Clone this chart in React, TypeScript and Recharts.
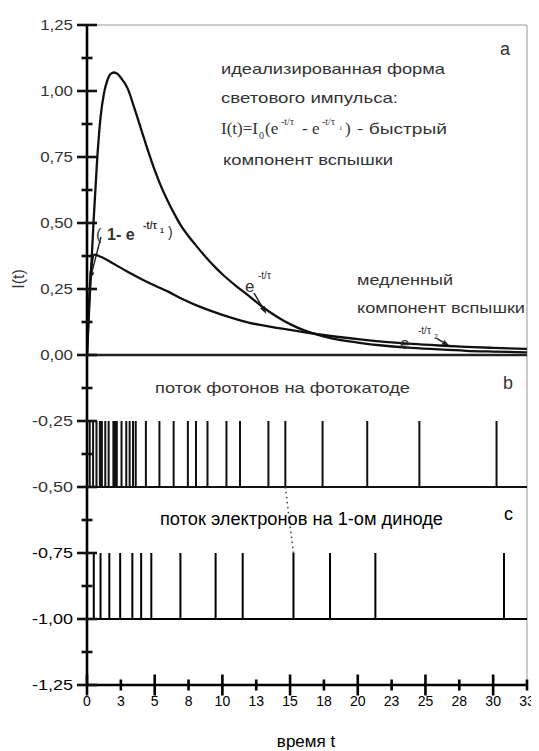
import { ComposedChart, Line, XAxis, YAxis, ReferenceLine } from "recharts";

// fast component of the light pulse
const fastT = [0, 0.25, 0.5, 0.75, 1, 1.25, 1.5, 1.75, 2, 2.25, 2.5, 3, 3.5, 4, 4.5, 5, 5.5, 6, 6.5, 7, 7.5, 8, 8.5, 9, 9.5, 10, 11, 12, 13, 14, 15, 16, 17, 18, 20, 22, 24, 26, 28, 30, 32.5];
const fastI = [0, 0.27, 0.52, 0.74, 0.9, 0.99, 1.04, 1.065, 1.07, 1.065, 1.05, 1.01, 0.935, 0.855, 0.775, 0.7, 0.635, 0.58, 0.53, 0.485, 0.45, 0.418, 0.387, 0.358, 0.331, 0.306, 0.262, 0.222, 0.181, 0.146, 0.117, 0.094, 0.077, 0.064, 0.047, 0.035, 0.027, 0.021, 0.016, 0.013, 0.01];

// slow component
const slowT = [0, 0.15, 0.3, 0.55, 1, 2, 3, 4, 5, 6, 7, 8, 9, 10, 11, 12, 13, 14, 15, 16, 17, 18, 20, 22, 24, 26, 28, 30, 32.5];
const slowI = [0, 0.2, 0.32, 0.38, 0.372, 0.345, 0.315, 0.288, 0.263, 0.24, 0.213, 0.19, 0.17, 0.152, 0.136, 0.122, 0.112, 0.103, 0.095, 0.087, 0.079, 0.072, 0.06, 0.05, 0.042, 0.036, 0.031, 0.027, 0.023];

// photon arrival times on the photocathode (panel b)
const photonSpikes = [0.2, 0.45, 0.7, 0.95, 1.1, 1.35, 1.6, 1.95, 2.07, 2.2, 2.55, 2.9, 3.15, 3.4, 3.6, 4.35, 5.35, 6.4, 7.45, 8.05, 8.9, 10.3, 11.3, 13.4, 14.65, 17.4, 20.7, 24.55, 30.25];
const photonBase = -0.5;
const photonTop = -0.25;

// electrons on the first dynode (panel c)
const electronSpikes = [0.5, 1.0, 1.65, 2.45, 3.35, 4.0, 4.75, 6.9, 9.5, 11.5, 15.25, 17.95, 21.3, 30.8];
const electronBase = -1.0;
const electronTop = -0.75;

// dotted link between a photon and its electron
const linkT = [14.65, 15.25];
const linkI = [-0.5, -0.75];

const xTicks = [0, 2.5, 5, 7.5, 10, 12.5, 15, 17.5, 20, 22.5, 25, 27.5, 30, 32.5];
const xTickLabels = ["0", "3", "5", "8", "10", "13", "15", "18", "20", "23", "25", "28", "30", "33"];
const yTicks = [-1.25, -1.125, -1, -0.875, -0.75, -0.625, -0.5, -0.375, -0.25, -0.125, 0, 0.125, 0.25, 0.375, 0.5, 0.625, 0.75, 0.875, 1, 1.125, 1.25];

// annotation arrows [from, to] in data units
const arrows = [
  [{ x: 1.03, y: 0.447 }, { x: 0.22, y: 0.285 }],
  [{ x: 12.33, y: 0.235 }, { x: 13.25, y: 0.155 }],
  [{ x: 25.8, y: 0.064 }, { x: 26.8, y: 0.033 }],
];

const isMajorY = (v: number) => Math.abs(v * 4 - Math.round(v * 4)) < 1e-6;
const isMajorX = (v: number) => v % 5 === 0;

const toPoints = (ts: number[], vs: number[]) => ts.map((t, i) => ({ t, v: vs[i] }));

const spikeTrain = (spikes: number[], base: number, top: number) => {
  const pts = [{ t: 0, v: base }];
  spikes.forEach((s) => {
    pts.push({ t: s, v: base }, { t: s, v: top }, { t: s, v: base });
  });
  pts.push({ t: 32.5, v: base });
  return pts;
};

const fastData = toPoints(fastT, fastI);
const slowData = toPoints(slowT, slowI);
const photonData = spikeTrain(photonSpikes, photonBase, photonTop);
const electronData = spikeTrain(electronSpikes, electronBase, electronTop);
const linkData = toPoints(linkT, linkI);

const SANS = "'Liberation Sans', Arial, sans-serif";
const SERIF = "'Liberation Serif', 'Times New Roman', serif";

// y ticks cross the axis; only the quarter steps get a label
const renderYTick = (props: any) => {
  const { x, y, payload } = props;
  const v = payload.value;
  const major = isMajorY(v);
  const half = major ? 10 : 5.5;
  const label = v.toFixed(2).replace(".", ",");
  return (
    <g key={`yt-${v}`}>
      <rect x={x - half} y={y - 1.3} width={half * 2} height={2.6} fill="#111" />
      {major && (
        <text
          x={x - 14}
          y={y + 5}
          textAnchor="end"
          fontFamily={SANS}
          fontSize={14}
          fill={v > -0.6 ? "#333" : "#000"}
          textLength={label.length * 8.2}
          lengthAdjust="spacingAndGlyphs"
        >
          {label}
        </text>
      )}
    </g>
  );
};

const renderXTick = (props: any) => {
  const { x, y, payload } = props;
  const idx = xTicks.indexOf(payload.value);
  const h = isMajorX(payload.value) ? 10.5 : 5.5;
  return (
    <g key={`xt-${payload.value}`}>
      <rect x={x - 1.3} y={y - h} width={2.6} height={h * 2} fill="#000" />
      <text x={x} y={y + 21} textAnchor="middle" fontFamily={SANS} fontSize={14} fill="#000">
        {xTickLabels[idx]}
      </text>
    </g>
  );
};

const Arrow = (props: any) => {
  const { x1, y1, x2, y2 } = props;
  const a = Math.atan2(y2 - y1, x2 - x1);
  const L = 8;
  const W = 2.6;
  const bx = x2 - L * Math.cos(a);
  const by = y2 - L * Math.sin(a);
  const px = -Math.sin(a) * W;
  const py = Math.cos(a) * W;
  return (
    <g>
      <line x1={x1} y1={y1} x2={bx} y2={by} stroke="#222" strokeWidth={1.4} />
      <polygon points={`${x2},${y2} ${bx + px},${by + py} ${bx - px},${by - py}`} fill="#222" />
    </g>
  );
};

const Annotations = () => (
  <svg width={531} height={743} style={{ position: "absolute", left: 0, top: 0, pointerEvents: "none" }}>
    <text transform="translate(16 271) rotate(-90)" textAnchor="middle" fontFamily={SANS} fontSize={16} fill="#333">
      I(t)
    </text>

    <text x={492} y={47} fontFamily={SANS} fontSize={18} fill="#333">a</text>
    <text x={213} y={66} fontFamily={SANS} fontSize={15} fill="#333" textLength={224} lengthAdjust="spacingAndGlyphs">
      идеализированная форма
    </text>
    <text x={213} y={95} fontFamily={SANS} fontSize={15} fill="#333" textLength={177} lengthAdjust="spacingAndGlyphs">
      светового импульса:
    </text>
    <g fontFamily={SERIF} fill="#333">
      <text x={213} y={126} fontSize={17}>I(t)=I</text>
      <text x={251} y={131} fontSize={10}>0</text>
      <text x={257} y={126} fontSize={17}>(e</text>
      <text x={273} y={117} fontSize={10}>-t/τ</text>
      <text x={294} y={126} fontSize={17}>- e</text>
      <text x={314} y={117} fontSize={10}>-t/τ</text>
      <text x={331} y={122} fontSize={7}>1</text>
      <text x={337} y={126} fontSize={17}>)</text>
    </g>
    <text x={349} y={126} fontFamily={SANS} fontSize={15} fill="#333" textLength={90} lengthAdjust="spacingAndGlyphs">
      - быстрый
    </text>
    <text x={215} y={157} fontFamily={SANS} fontSize={15} fill="#333" textLength={170} lengthAdjust="spacingAndGlyphs">
      компонент вспышки
    </text>

    <g fontFamily={SANS} fill="#333" fontWeight="bold">
      <text x={88} y={232} fontSize={16} fontWeight="normal">(</text>
      <text x={99} y={232} fontSize={16}>1- e</text>
      <text x={135} y={221} fontSize={10}>-t/τ</text>
      <text x={152} y={225} fontSize={7}>1</text>
      <text x={160} y={229} fontSize={14} fontWeight="normal">)</text>
    </g>

    <g fontFamily={SANS} fill="#333">
      <text x={237} y={284} fontSize={17}>e</text>
      <text x={250} y={271} fontSize={10}>-t/τ</text>
      <text x={392} y={341} fontSize={17}>e</text>
      <text x={410} y={326} fontSize={10}>-t/τ</text>
      <text x={426} y={331} fontSize={7}>2</text>
    </g>

    <text x={349} y={277} fontFamily={SANS} fontSize={15} fill="#333" textLength={96} lengthAdjust="spacingAndGlyphs">
      медленный
    </text>
    <text x={349} y={305} fontFamily={SANS} fontSize={15} fill="#333" textLength={168} lengthAdjust="spacingAndGlyphs">
      компонент вспышки
    </text>

    <text x={495} y={381} fontFamily={SANS} fontSize={18} fill="#333">b</text>
    <text x={147} y={385} fontFamily={SANS} fontSize={15} fill="#333" textLength={255} lengthAdjust="spacingAndGlyphs">
      поток фотонов на фотокатоде
    </text>

    <text x={496} y={512} fontFamily={SANS} fontSize={18} fill="#000">c</text>
    <text x={152} y={517} fontFamily={SANS} fontSize={18} fill="#000" textLength={283} lengthAdjust="spacingAndGlyphs">
      поток электронов на 1-ом диноде
    </text>

    <text x={298} y={739} textAnchor="middle" fontFamily={SANS} fontSize={17} fill="#000">
      время t
    </text>
  </svg>
);

export default function App() {
  return (
    <div style={{ position: "relative", width: 531, height: 743, background: "#fff" }}>
      <ComposedChart width={531} height={743} margin={{ top: 17, right: 12, left: 19, bottom: 36 }}>
        <ReferenceLine y={1.25} stroke="#bbb" strokeWidth={1.5} />
        <ReferenceLine x={32.5} stroke="#aaa" strokeWidth={1.2} />
        <ReferenceLine y={0} stroke="#222" strokeWidth={2.6} />

        {arrows.map((seg, i) => (
          <ReferenceLine key={`ar-${i}`} segment={seg} shape={<Arrow />} />
        ))}

        <Line data={slowData} dataKey="v" type="monotone" stroke="#111" strokeWidth={2.3} dot={false} isAnimationActive={false} />
        <Line data={fastData} dataKey="v" type="monotone" stroke="#111" strokeWidth={2.3} dot={false} isAnimationActive={false} />
        <Line data={photonData} dataKey="v" type="linear" stroke="#111" strokeWidth={2} strokeLinejoin="bevel" dot={false} isAnimationActive={false} />
        <Line data={electronData} dataKey="v" type="linear" stroke="#000" strokeWidth={2} strokeLinejoin="bevel" dot={false} isAnimationActive={false} />
        <Line data={linkData} dataKey="v" type="linear" stroke="#444" strokeWidth={1.6} strokeDasharray="1.5 3.5" dot={false} isAnimationActive={false} />

        <XAxis
          type="number"
          dataKey="t"
          domain={[0, 32.5]}
          ticks={xTicks}
          interval={0}
          allowDataOverflow
          height={30}
          tickSize={0}
          tickMargin={0}
          tickLine={false}
          axisLine={{ stroke: "#000", strokeWidth: 2.6 }}
          tick={renderXTick}
        />
        <YAxis
          type="number"
          dataKey="v"
          domain={[-1.25, 1.25]}
          ticks={yTicks}
          interval={0}
          allowDataOverflow
          width={60}
          tickSize={0}
          tickMargin={0}
          tickLine={false}
          axisLine={{ stroke: "#000", strokeWidth: 2.6 }}
          tick={renderYTick}
        />
      </ComposedChart>
      <Annotations />
    </div>
  );
}
